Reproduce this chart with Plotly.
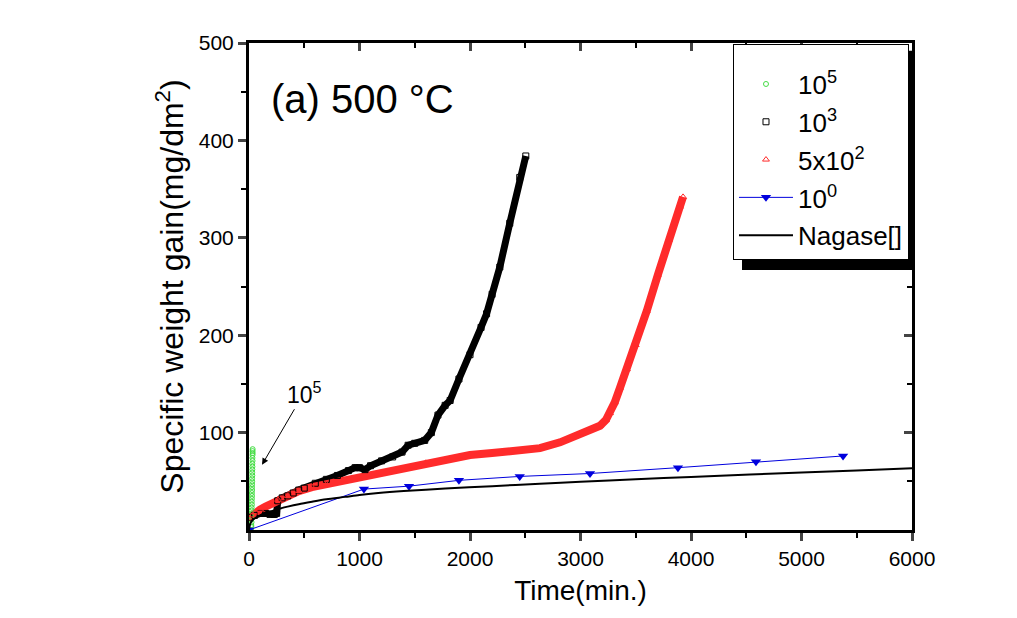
import plotly.graph_objects as go

# ---- data ----
# 10^5 (green, vertical column near t=0)
t_1e5 = [20, 22, 21, 23, 22, 24, 23, 25, 24, 26, 25, 26, 27, 26, 28, 27, 28, 29, 28, 30, 29, 30, 31, 30, 32, 31, 32, 33, 32, 33]
v_1e5 = [0, 3, 5, 8, 11, 14, 17, 20, 23, 26, 29, 32, 35, 38, 41, 44, 47, 50, 53, 56, 59, 62, 65, 68, 71, 74, 77, 79, 81, 83]

# 10^3 (black squares)
t_1e3 = [0, 50, 100, 150, 190, 230, 250, 260, 300, 350, 400, 450, 500, 600, 700, 800, 900, 960, 1000, 1050,
         1100, 1200, 1300, 1385, 1440, 1500, 1590, 1650, 1710, 1775, 1820, 1900, 2000, 2100, 2150, 2200, 2270,
         2360, 2450, 2505]
v_1e3 = [13, 15, 17, 17, 16, 16, 17, 30, 33, 35, 38, 41, 43, 48, 52, 56, 61, 64, 64, 62,
         66, 71, 75, 80, 87, 89, 92, 100, 118, 128, 133, 155, 180, 208, 222, 242, 270,
         315, 362, 384]

# 5x10^2 (red triangles)
t_5e2 = [0, 30, 60, 100, 150, 200, 262, 350, 450, 570, 700, 870, 1000, 1170, 1300, 1475, 1600, 1775, 1900,
         2000, 2200, 2400, 2633, 2815, 2900, 2995, 3100, 3176, 3230, 3267, 3310, 3357, 3420, 3500, 3600,
         3700, 3800, 3900, 3928]
v_5e2 = [12, 15, 18, 21, 24, 27, 31, 35, 40, 44, 47, 51, 54, 58, 61, 65, 69, 72, 75,
         77, 79, 81, 84, 90, 94, 99, 104, 107, 113, 120, 131, 146, 165, 190, 225,
         262, 298, 332, 342]

# 10^0 (blue, down triangles)
t_1e0 = [0, 1040, 1448, 1900, 2450, 3086, 3882, 4588, 5376]
v_1e0 = [0, 42, 45, 51, 55, 58, 64, 70, 76]

# Nagase (black curve)
t_nag = [0, 10, 30, 60, 100, 150, 200, 262, 350, 450, 570, 700, 870, 1000, 1170, 1400, 1775, 2200, 2633,
         3000, 3500, 4000, 4534, 5000, 5500, 6000]
v_nag = [0, 6, 10, 12.5, 15, 17, 19, 21.5, 24, 26.5, 29, 31.5, 34, 36, 38, 40, 42.5, 45, 47.5,
         49.5, 52, 54.5, 57, 59, 61.2, 63.3]

x_major = [0, 1000, 2000, 3000, 4000, 5000, 6000]
x_minor = [500, 1500, 2500, 3500, 4500, 5500]
y_major = [100, 200, 300, 400, 500]
y_minor = [50, 150, 250, 350, 450]

FONT = "Liberation Sans, Arial, sans-serif"
RED = "#ff2b2b"
GREEN = "#44dd44"
BLUE = "#0000dd"

fig = go.Figure()

# thick bodies formed by overlapping markers in the original
fig.add_trace(go.Scatter(x=t_1e3, y=v_1e3, mode="lines", line=dict(color="black", width=7),
                         showlegend=False, hoverinfo="skip"))
fig.add_trace(go.Scatter(x=t_5e2, y=v_5e2, mode="lines", line=dict(color=RED, width=8),
                         showlegend=False, hoverinfo="skip"))

fig.add_trace(go.Scatter(x=t_1e5, y=v_1e5, mode="markers", name="10<sup>5</sup>", legendgroup="a",
                         marker=dict(symbol="circle-open", size=5, color=GREEN, line=dict(width=1))))
fig.add_trace(go.Scatter(x=t_1e3, y=v_1e3, mode="markers", name="10<sup>3</sup>", legendgroup="b",
                         marker=dict(symbol="square-open", size=6, color="black", line=dict(width=1))))
fig.add_trace(go.Scatter(x=t_5e2, y=v_5e2, mode="markers", name="5x10<sup>2</sup>", legendgroup="c",
                         marker=dict(symbol="triangle-up-open", size=6, color=RED, line=dict(width=1))))
fig.add_trace(go.Scatter(x=t_1e0, y=v_1e0, mode="lines+markers", name="10<sup>0</sup>", legendgroup="d",
                         line=dict(color=BLUE, width=1),
                         marker=dict(symbol="triangle-down", size=9, color=BLUE)))
fig.add_trace(go.Scatter(x=t_nag, y=v_nag, mode="lines", name="Nagase[]", legendgroup="e",
                         line=dict(color="black", width=2, shape="spline", smoothing=0.8)))

# dummy trace so the mirrored top/right axes are drawn
fig.add_trace(go.Scatter(x=[None], y=[None], xaxis="x2", yaxis="y2", showlegend=False, hoverinfo="skip"))

fig.update_layout(
    width=1017, height=618,
    paper_bgcolor="white", plot_bgcolor="white",
    margin=dict(l=241, r=113, t=35, b=96),
    font=dict(family=FONT, color="black"),
    xaxis=dict(range=[0, 6000], tickvals=x_major, ticks="outside", ticklen=8, tickwidth=3,
               showline=True, linewidth=3, linecolor="black", showgrid=False, zeroline=False,
               tickfont=dict(size=21), title=dict(text="Time(min.)", font=dict(size=28), standoff=12),
               minor=dict(tickvals=x_minor, ticks="outside", ticklen=5, tickwidth=2, tickcolor="black")),
    yaxis=dict(range=[0, 500], tickvals=y_major, ticks="outside", ticklen=8, tickwidth=3,
               showline=True, linewidth=3, linecolor="black", showgrid=False, zeroline=False,
               tickfont=dict(size=21),
               title=dict(text="Specific weight gain(mg/dm<sup>2</sup>)", font=dict(size=32), standoff=6),
               minor=dict(tickvals=y_minor, ticks="outside", ticklen=5, tickwidth=2, tickcolor="black")),
    xaxis2=dict(range=[0, 6000], overlaying="x", side="top", tickvals=x_major, ticks="inside", ticklen=8,
                tickwidth=3, showticklabels=False, showline=True, linewidth=3, linecolor="black",
                showgrid=False, zeroline=False,
                minor=dict(tickvals=x_minor, ticks="inside", ticklen=5, tickwidth=2, tickcolor="black")),
    yaxis2=dict(range=[0, 500], overlaying="y", side="right", tickvals=y_major, ticks="inside", ticklen=8,
                tickwidth=3, showticklabels=False, showline=True, linewidth=3, linecolor="black",
                showgrid=False, zeroline=False,
                minor=dict(tickvals=y_minor, ticks="inside", ticklen=5, tickwidth=2, tickcolor="black")),
    legend=dict(x=0.730, y=0.998, xanchor="left", yanchor="top", bgcolor="white",
                bordercolor="black", borderwidth=1, font=dict(size=26, family=FONT),
                itemwidth=54, tracegroupgap=1,
                title=dict(text="\u00a0", font=dict(size=12))),
    showlegend=True,
)

# legend drop shadow
fig.add_shape(type="rect", xref="paper", yref="paper", x0=0.7436, x1=1.0015, y0=0.534, y1=0.984,
              fillcolor="black", line=dict(width=0), layer="above")

# panel label
fig.add_annotation(text="(a) 500 °C", xref="paper", yref="paper", x=0.03, y=0.885,
                   xanchor="left", yanchor="middle", showarrow=False, font=dict(size=40, family=FONT))

# arrow pointing to the 10^5 column
fig.add_annotation(text="10<sup>5</sup>", x=118, y=67, xref="x", yref="y", showarrow=True,
                   ax=42, ay=-72, arrowhead=2, arrowsize=1.3, arrowwidth=1, arrowcolor="black",
                   font=dict(size=23, family=FONT))

fig.write_html("out.html")
